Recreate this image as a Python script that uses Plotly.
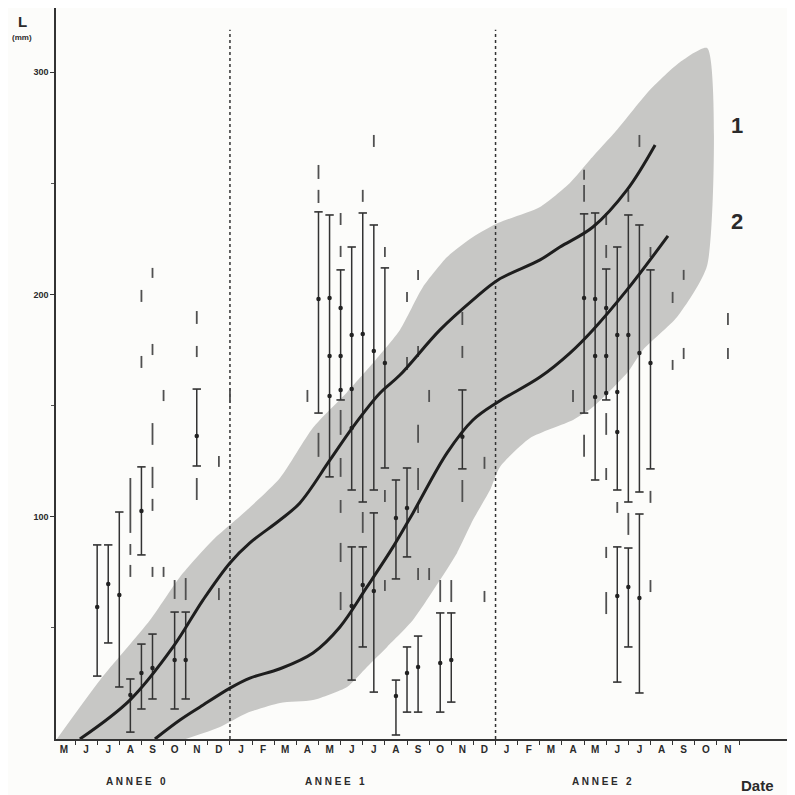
import plotly.graph_objects as go

# ---------------- data ----------------
months = ["M", "J", "J", "A", "S", "O", "N", "D",
          "J", "F", "M", "A", "M", "J", "J", "A", "S", "O", "N", "D",
          "J", "F", "M", "A", "M", "J", "J", "A", "S", "O", "N"]
month_pos = list(range(len(months)))
year_labels = ["A N N E E   0", "A N N E E   1", "A N N E E   2"]
year_pos = [3.25, 12.25, 24.3]
year_dividers = [7.5, 19.5]
y_ticks = [100, 200, 300]
y_minor = [50, 150, 250]

# grey envelope (upper edge left->right, lower edge right->left)
band_up_x = [-0.32, 1.63, 3.89, 5.24, 6.73, 8.27, 9.76, 11.25, 12.79, 13.96, 15.18,
             16.22, 17.31, 18.48, 19.61, 21.51, 22.86, 23.77, 24.99, 26.48, 27.84, 29.06]
band_up_y = [0, 26.5, 53.5, 72.9, 89.5, 103, 117.4, 140, 156, 169.1, 184,
             203.3, 216.8, 225.8, 232.1, 239.3, 250.1, 260.5, 274, 292, 304.5, 310.8]
band_lo_x = [29.06, 27.7, 26.16, 25.44, 23.9, 23.0, 21.06, 19.7, 19.25, 18.48, 17.76,
             16.99, 15.77, 14.6, 13.69, 12.79, 11.25, 9.76, 8.27, 7.05, 5.5]
band_lo_y = [213, 189.8, 175, 164.6, 149.3, 143.5, 135.4, 122.4, 112, 98.5, 83.7,
             71.5, 53.5, 41.4, 32.4, 23.4, 17.5, 16.2, 11.7, 5.4, 0]

# growth curves
curve1_x = [0.72, 2.98, 4.93, 6.28, 7.50, 8.40, 9.76, 10.66, 12.02, 13.06, 14.28,
            15.18, 16.99, 18.48, 19.61, 21.51, 22.41, 23.90, 25.44, 26.71]
curve1_y = [0, 17.5, 41.4, 62.5, 79.2, 88.2, 98.5, 106.2, 125.5, 140.4, 155.6,
            163.7, 184, 197.5, 206.5, 215.5, 221.3, 230.3, 247, 267.2]
curve2_x = [4.11, 5.24, 6.15, 7.50, 8.40, 9.76, 11.25, 12.47, 13.69, 14.87, 15.77,
            17.31, 18.48, 19.61, 21.51, 22.86, 23.90, 25.44, 27.29]
curve2_y = [0, 8.5, 14.4, 22.9, 27.4, 31.6, 38.7, 50.4, 68.4, 86.4, 101.7,
            128.7, 143.5, 151.6, 162.8, 173.6, 184, 202, 226.3]
curve_names = ["1", "2"]
curve_label_y = [276, 232.6]

# ranges with caps
bar_x = [1.5, 2.0, 2.5, 3.0, 3.5, 3.5, 4.0, 5.0, 5.5, 6.0,
         11.5, 12.0, 12.5, 13.0, 13.5, 14.0, 14.5, 13.0, 13.5, 14.0,
         15.0, 15.0, 15.5, 15.5, 16.0, 17.0, 17.5, 18.0,
         23.5, 24.0, 24.5, 25.0, 25.5, 26.0, 26.5, 25.0, 25.5, 26.0]
bar_lo = [28.3, 43.2, 23.4, 3.1, 82.8, 13.5, 18.0, 13.5, 18.0, 122.8,
          146.6, 117.9, 152.5, 112.0, 106.6, 112.0, 121.9, 26.5, 41.4, 21.1,
          72.0, 1.8, 81.9, 12.1, 12.1, 12.1, 16.6, 121.5,
          146.6, 116.5, 152.5, 112.0, 106.6, 111.1, 121.5, 25.6, 41.4, 20.7]
bar_hi = [87.3, 87.3, 102.1, 27.0, 122.4, 42.7, 47.2, 57.1, 57.1, 157.4,
          237.1, 235.7, 211.0, 221.3, 236.6, 231.2, 211.9, 86.4, 86.4, 101.7,
          116.5, 26.5, 121.9, 41.4, 46.3, 56.7, 56.7, 157.0,
          236.2, 236.6, 211.4, 221.3, 235.7, 231.2, 211.0, 86.4, 85.9, 101.2]

# mean points
mean_x = [1.5, 2.0, 2.5, 3.0, 3.5, 3.5, 4.0, 5.0, 5.5, 6.0,
          11.5, 12.0, 12.0, 12.0, 12.5, 12.5, 12.5, 13.0, 13.0, 13.0, 13.5, 14.0, 14.5,
          13.0, 13.5, 14.0, 15.0, 15.0, 15.5, 15.5, 16.0, 17.0, 17.5, 18.0,
          23.5, 24.0, 24.0, 24.0, 24.5, 24.5, 24.5, 25.0, 25.0, 25.0, 25.5, 26.0, 26.5,
          25.0, 25.5, 26.0]
mean_y = [59.4, 69.7, 64.8, 19.8, 102.6, 29.7, 31.9, 35.5, 35.5, 136.3,
          197.9, 198.4, 172.3, 154.3, 193.9, 172.3, 157.0, 181.7, 157.4, 139.9, 182.2, 174.5, 169.1,
          59.8, 69.3, 66.6, 99.4, 19.3, 103.9, 29.7, 32.4, 34.2, 35.5, 135.9,
          198.4, 197.9, 172.3, 153.8, 193.9, 172.3, 155.6, 181.7, 156.1, 138.1, 181.7, 173.6, 169.1,
          64.3, 68.4, 63.4]

# isolated extreme values (short strokes)
dash_x = [3.0, 3.0, 3.0, 3.5, 3.5, 4.0, 4.0, 4.0, 4.0, 4.0, 4.0, 4.5, 4.5, 5.0, 5.5,
          6.0, 6.0, 6.0, 7.0, 7.0, 7.5,
          11.0, 11.5, 11.5, 11.5, 12.5, 12.5, 12.5, 12.5, 12.5, 12.5, 12.5, 13.5, 13.5, 14.0,
          14.5, 14.5, 14.5, 15.5, 15.5, 16.0, 16.0, 16.0, 16.0, 16.0, 16.0, 16.5, 16.5,
          17.0, 17.5, 18.0, 18.0, 18.0, 19.0, 19.0,
          23.0, 23.5, 23.5, 23.5, 24.5, 24.5, 24.5, 24.5, 24.5, 24.5, 25.0, 25.5, 25.5, 26.0,
          26.5, 26.5, 26.5, 27.5, 27.5, 28.0, 28.0, 30.0, 30.0]
dash_lo = [92.7, 82.8, 72.9, 196.6, 166.9, 207.4, 172.7, 132.3, 112.9, 102.6, 72.9, 152.0, 72.9, 63.0, 62.5,
           186.7, 171.8, 107.5, 122.4, 62.5, 151.1,
           151.6, 251.9, 241.1, 126.9, 231.2, 216.8, 136.8, 117.9, 101.7, 79.6, 58.0, 241.6, 92.7, 266.3,
           216.8, 106.6, 66.6, 196.6, 166.0, 206.5, 171.8, 133.2, 112.0, 101.7, 71.5, 151.6, 71.5,
           61.6, 61.6, 186.2, 171.4, 106.6, 121.5, 61.6,
           151.6, 251.5, 241.6, 126.9, 231.2, 216.4, 136.8, 116.5, 81.4, 56.2, 101.7, 241.6, 91.8, 266.3,
           216.8, 106.2, 66.1, 196.1, 166.0, 206.5, 170.9, 186.2, 170.9]
dash_hi = [117.4, 87.7, 78.3, 202.0, 172.3, 211.9, 177.7, 142.1, 122.4, 108.0, 77.4, 157.0, 77.4, 71.5, 72.4,
           192.5, 176.8, 117.4, 127.3, 67.9, 157.9,
           157.0, 258.2, 247.0, 137.7, 236.6, 221.8, 148.0, 126.4, 107.5, 88.2, 66.1, 247.0, 102.1, 271.7,
           221.3, 112.0, 71.5, 201.1, 171.8, 211.0, 176.8, 141.3, 121.9, 105.3, 76.9, 157.0, 76.9,
           71.5, 71.5, 192.1, 176.8, 116.5, 126.9, 66.6,
           157.0, 256.0, 249.2, 136.8, 236.6, 222.2, 146.6, 121.9, 86.4, 66.1, 106.6, 247.0, 101.7, 271.7,
           221.3, 111.6, 71.5, 201.1, 170.5, 211.0, 175.9, 191.6, 175.9]

# ---------------- figure ----------------
FONT = "Liberation Sans"
INK = "#2a2a2a"
fig = go.Figure()

# envelope
fig.add_trace(go.Scatter(
    x=band_up_x + band_lo_x, y=band_up_y + band_lo_y,
    fill="toself", fillcolor="#c7c7c5", mode="lines",
    line=dict(width=0, shape="spline", smoothing=0.6), hoverinfo="skip", showlegend=False))

# year dividers
for xd in year_dividers:
    fig.add_trace(go.Scatter(x=[xd, xd], y=[0, 319], mode="lines",
                             line=dict(color="#333", width=1.5, dash="dot"),
                             hoverinfo="skip", showlegend=False))

# strokes
sx, sy = [], []
for x, lo, hi in zip(dash_x, dash_lo, dash_hi):
    sx += [x, x, None]
    sy += [lo, hi, None]
fig.add_trace(go.Scatter(x=sx, y=sy, mode="lines", line=dict(color="#505050", width=1.8),
                         hoverinfo="skip", showlegend=False))

# ranges
rx, ry = [], []
for x, lo, hi in zip(bar_x, bar_lo, bar_hi):
    rx += [x, x, None]
    ry += [lo, hi, None]
fig.add_trace(go.Scatter(x=rx, y=ry, mode="lines", line=dict(color="#333", width=1.5),
                         hoverinfo="skip", showlegend=False))
fig.add_trace(go.Scatter(x=bar_x + bar_x, y=bar_lo + bar_hi, mode="markers",
                         marker=dict(symbol="line-ew", size=6, line=dict(width=1.6, color="#333")),
                         hoverinfo="skip", showlegend=False))
fig.add_trace(go.Scatter(x=mean_x, y=mean_y, mode="markers",
                         marker=dict(symbol="circle", size=4.5, color="#222"),
                         hoverinfo="skip", showlegend=False))

# curves
for cx, cy in [(curve1_x, curve1_y), (curve2_x, curve2_y)]:
    fig.add_trace(go.Scatter(x=cx, y=cy, mode="lines",
                             line=dict(color="#1e1e1e", width=3, shape="spline", smoothing=1.0),
                             hoverinfo="skip", showlegend=False))

A = dict(showarrow=False, xanchor="center", yanchor="middle")
ann = []
ann.append(dict(text="L", x=-0.046, y=0.981, xref="paper", yref="paper",
                font=dict(family=FONT, size=15, color=INK, weight="bold"), **A))
ann.append(dict(text="(mm)", x=-0.046, y=0.960, xref="paper", yref="paper",
                font=dict(family=FONT, size=8, color=INK, weight="bold"), **A))
for lbl, xp in zip(year_labels, year_pos):
    ann.append(dict(text=lbl, x=xp, y=-0.0575, xref="x", yref="paper",
                    font=dict(family=FONT, size=10, color=INK, weight="bold"), **A))
ann.append(dict(text="Date", x=0.949, y=-0.063, xref="paper", yref="paper",
                font=dict(family="Liberation Sans Narrow, " + FONT, size=15, color=INK, weight="bold"), **A))
for lbl, yp in zip(curve_names, curve_label_y):
    ann.append(dict(text=lbl, x=30.4, y=yp, xref="x", yref="y",
                    font=dict(family=FONT, size=22, color=INK, weight="bold"), **A))

# the page body adds an 8px offset, so the figure is 787px and margins are shifted
fig.update_layout(
    width=787, height=787,
    margin=dict(l=48, r=0, t=0, b=56),
    paper_bgcolor="#fcfcfa", plot_bgcolor="#fcfcfa",
    annotations=ann,
    xaxis=dict(range=[-0.36, 33.03], showline=True, linecolor="#333", linewidth=1.5,
               showgrid=False, zeroline=False, tickmode="array", tickvals=month_pos,
               ticktext=months, ticks="", ticklabelstandoff=0,
               tickfont=dict(family=FONT, size=10, color=INK, weight="bold"),
               minor=dict(tickmode="array", tickvals=[m + 0.5 for m in range(-1, 31)],
                          ticks="outside", ticklen=4, tickcolor="#333", tickwidth=1, showgrid=False)),
    yaxis=dict(range=[0, 328.8], showline=True, linecolor="#333", linewidth=1.5,
               showgrid=False, zeroline=False, tickmode="array", tickvals=y_ticks,
               ticktext=[str(v) for v in y_ticks], ticks="outside", ticklen=4, tickcolor="#333",
               tickfont=dict(family=FONT, size=9, color=INK, weight="bold"),
               minor=dict(tickmode="array", tickvals=y_minor, ticks="outside", ticklen=3,
                          tickcolor="#555", showgrid=False)),
)

fig.write_html("out.html")
